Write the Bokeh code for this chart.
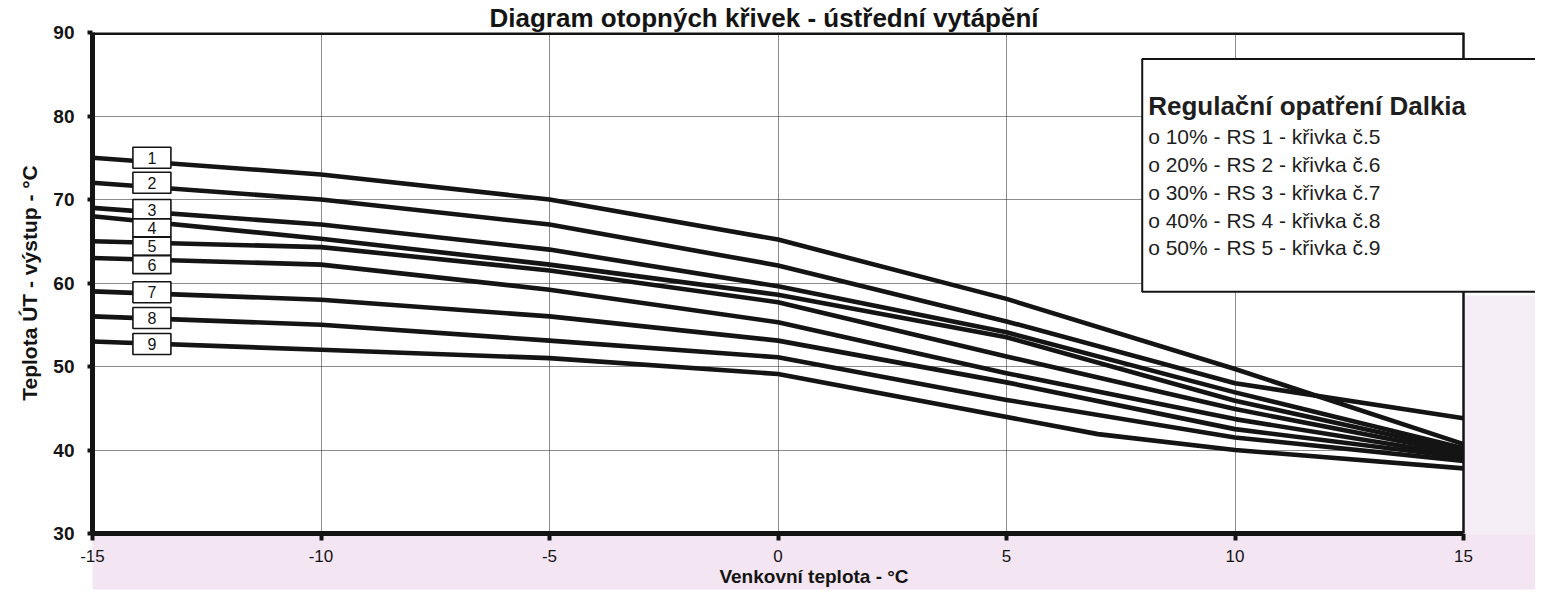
from bokeh.plotting import figure
from bokeh.models import Range1d, Label, ColumnDataSource, FixedTicker, BoxAnnotation, Span
from bokeh.embed import file_html
from bokeh.resources import INLINE
from bokeh.core.properties import value

# ---------------- data ----------------
x_pts = [-15, -10, -5, 0, 5, 10, 15]
curve_1 = [75, 73, 70, 65.2, 58.1, 49.7, 40.7]
curve_2 = [72, 70, 67, 62.1, 55.4, 48.0, 43.8]
curve_3 = [69, 67, 64, 59.6, 54.1, 46.9, 40.2]
curve_4 = [68, 65.3, 62.2, 58.6, 53.5, 45.9, 39.9]
curve_5 = [65, 64.3, 61.5, 57.7, 51.2, 44.9, 39.6]
curve_6 = [63, 62.2, 59.2, 55.3, 49.2, 43.7, 39.3]
curve_7 = [59, 58, 56, 53.1, 48.1, 42.5, 39.1]
curve_8 = [56, 55, 53.1, 51.1, 46.0, 41.5, 38.7]
x_9 = [-15, -10, -5, 0, 7, 10, 15]
curve_9 = [53, 52, 51, 49.1, 41.9, 40.0, 37.8]

curve_names = ["1", "2", "3", "4", "5", "6", "7", "8", "9"]
label_y = [75, 72, 68.8, 66.6, 64.4, 62.2, 58.9, 55.8, 52.7]

x_ticks = [-15, -10, -5, 0, 5, 10, 15]
y_ticks = [30, 40, 50, 60, 70, 80, 90]

title_text = "Diagram otopných křivek - ústřední vytápění"
x_title = "Venkovní teplota - °C"
y_title = "Teplota ÚT - výstup - °C"
legend_title = "Regulační opatření Dalkia"
legend_items = [
    "o 10% - RS 1 - křivka č.5",
    "o 20% - RS 2 - křivka č.6",
    "o 30% - RS 3 - křivka č.7",
    "o 40% - RS 4 - křivka č.8",
    "o 50% - RS 5 - křivka č.9",
]

FONT = "Liberation Sans"
INK = "#141414"

W, H = 1535, 590
FL, FT, FB = 92, 30, 533          # frame edges (canvas px)
X_END_PX = 1463                    # where x = 15 sits
PX_PER_X = (X_END_PX - FL) / 30.0
x_max = 15 + (W - X_END_PX) / PX_PER_X   # frame runs to the canvas edge

p = figure(width=W, height=H,
           x_range=Range1d(-15, x_max), y_range=Range1d(30, 90),
           output_backend="svg", toolbar_location=None,
           min_border_left=FL, min_border_right=0,
           min_border_top=FT, min_border_bottom=H - FB)
p.background_fill_color = "white"
p.border_fill_color = "white"
p.outline_line_color = None

# title (left-aligned with an offset so it sits where the scan has it)
p.title.text = title_text
p.title.text_font = FONT
p.title.text_font_size = "26px"
p.title.text_font_style = "bold"
p.title.text_color = INK
p.title.align = "left"
p.title.offset = 397
p.title.standoff = 0

# axes
for ax in (p.xaxis, p.yaxis):
    ax.axis_line_width = 5
    ax.axis_line_color = INK
    ax.major_tick_line_color = INK
    ax.major_tick_line_width = 4
    ax.major_tick_in = 0
    ax.minor_tick_line_color = None
    ax.major_label_text_font = FONT
    ax.major_label_text_color = INK
    ax.axis_label_text_font = FONT
    ax.axis_label_text_font_style = "bold"
    ax.axis_label_text_color = INK

p.xaxis.bounds = (-15, 15)
p.xaxis.ticker = FixedTicker(ticks=x_ticks)
p.xaxis.major_label_overrides = {t: str(t) for t in x_ticks}
p.xaxis.major_tick_out = 7
p.xaxis.major_label_standoff = 9
p.xaxis.major_label_text_font_size = "17px"
p.xaxis.axis_label = x_title
p.xaxis.axis_label_text_font_size = "19px"
p.xaxis.axis_label_standoff = 1
p.xaxis.background_fill_color = "#f3e5f1"

p.yaxis.ticker = FixedTicker(ticks=y_ticks)
p.yaxis.major_tick_out = 5
p.yaxis.major_label_standoff = 13
p.yaxis.major_label_text_font_size = "19px"
p.yaxis.major_label_text_font_style = "bold"
p.yaxis.axis_label = y_title
p.yaxis.axis_label_text_font_size = "21px"
p.yaxis.axis_label_standoff = 9

p.grid.grid_line_color = "#1a1a1a"
p.grid.grid_line_dash = "1 1"
p.grid.grid_line_width = 1.1

# curves
curves = [(x_pts, curve_1), (x_pts, curve_2), (x_pts, curve_3), (x_pts, curve_4),
          (x_pts, curve_5), (x_pts, curve_6), (x_pts, curve_7), (x_pts, curve_8),
          (x_9, curve_9)]
for xs, ys in curves:
    p.line(xs, ys, line_width=4.6, line_color=INK, line_join="round", line_cap="round")

# numbered curve tags
tag_x = -13.7
box_h = [21, 21, 20, 18, 18, 18, 21, 21, 21]
tags = ColumnDataSource(dict(x=[tag_x] * len(curve_names), y=label_y, name=curve_names, h=box_h))
p.rect(x="x", y="y", width=38, height="h", width_units="screen", height_units="screen",
       source=tags, fill_color="white", line_color=INK, line_width=1.6)
p.text(x="x", y="y", text="name", source=tags, text_align="center", text_baseline="middle",
       text_font=value(FONT), text_font_size="16px", text_color=INK)

# area right of x = 15 (page margin of the scan)
p.add_layout(BoxAnnotation(left=15, right=x_max + 1, top=91, bottom=58.5,
                           fill_color="white", fill_alpha=1.0, line_color=None))
p.add_layout(BoxAnnotation(left=15, right=x_max + 1, top=58.5, bottom=29,
                           fill_color="#f4edf5", fill_alpha=1.0, line_color=None))

# plot border: top and right edges
px_per_y = (FB - FT) / 60.0
p.add_layout(BoxAnnotation(left=-15, right=15, top=91, bottom=90 - 2.5 / px_per_y,
                           fill_color=INK, fill_alpha=1.0, line_color=None))
p.add_layout(Span(location=15, dimension="height", line_color=INK, line_width=2.5))

# legend box (Dalkia note), runs off the right edge as in the scan
p.add_layout(BoxAnnotation(left=7.97, right=x_max + 1, top=86.84, bottom=58.94,
                           fill_color="white", fill_alpha=1.0,
                           line_color=INK, line_width=2, line_alpha=1.0))
p.add_layout(Label(x=8.1, y=82.97, text=legend_title, text_font=FONT, text_font_size="26px",
                   text_font_style="bold", text_color="#1e1e1e", text_baseline="top"))
item_y = [78.87, 75.59, 72.19, 68.91, 65.62]
for txt, yy in zip(legend_items, item_y):
    p.add_layout(Label(x=8.1, y=yy, text=txt, text_font=FONT, text_font_size="21px",
                       text_color="#1e1e1e", text_baseline="top"))

open("out.html", "w").write(file_html(p, INLINE))
